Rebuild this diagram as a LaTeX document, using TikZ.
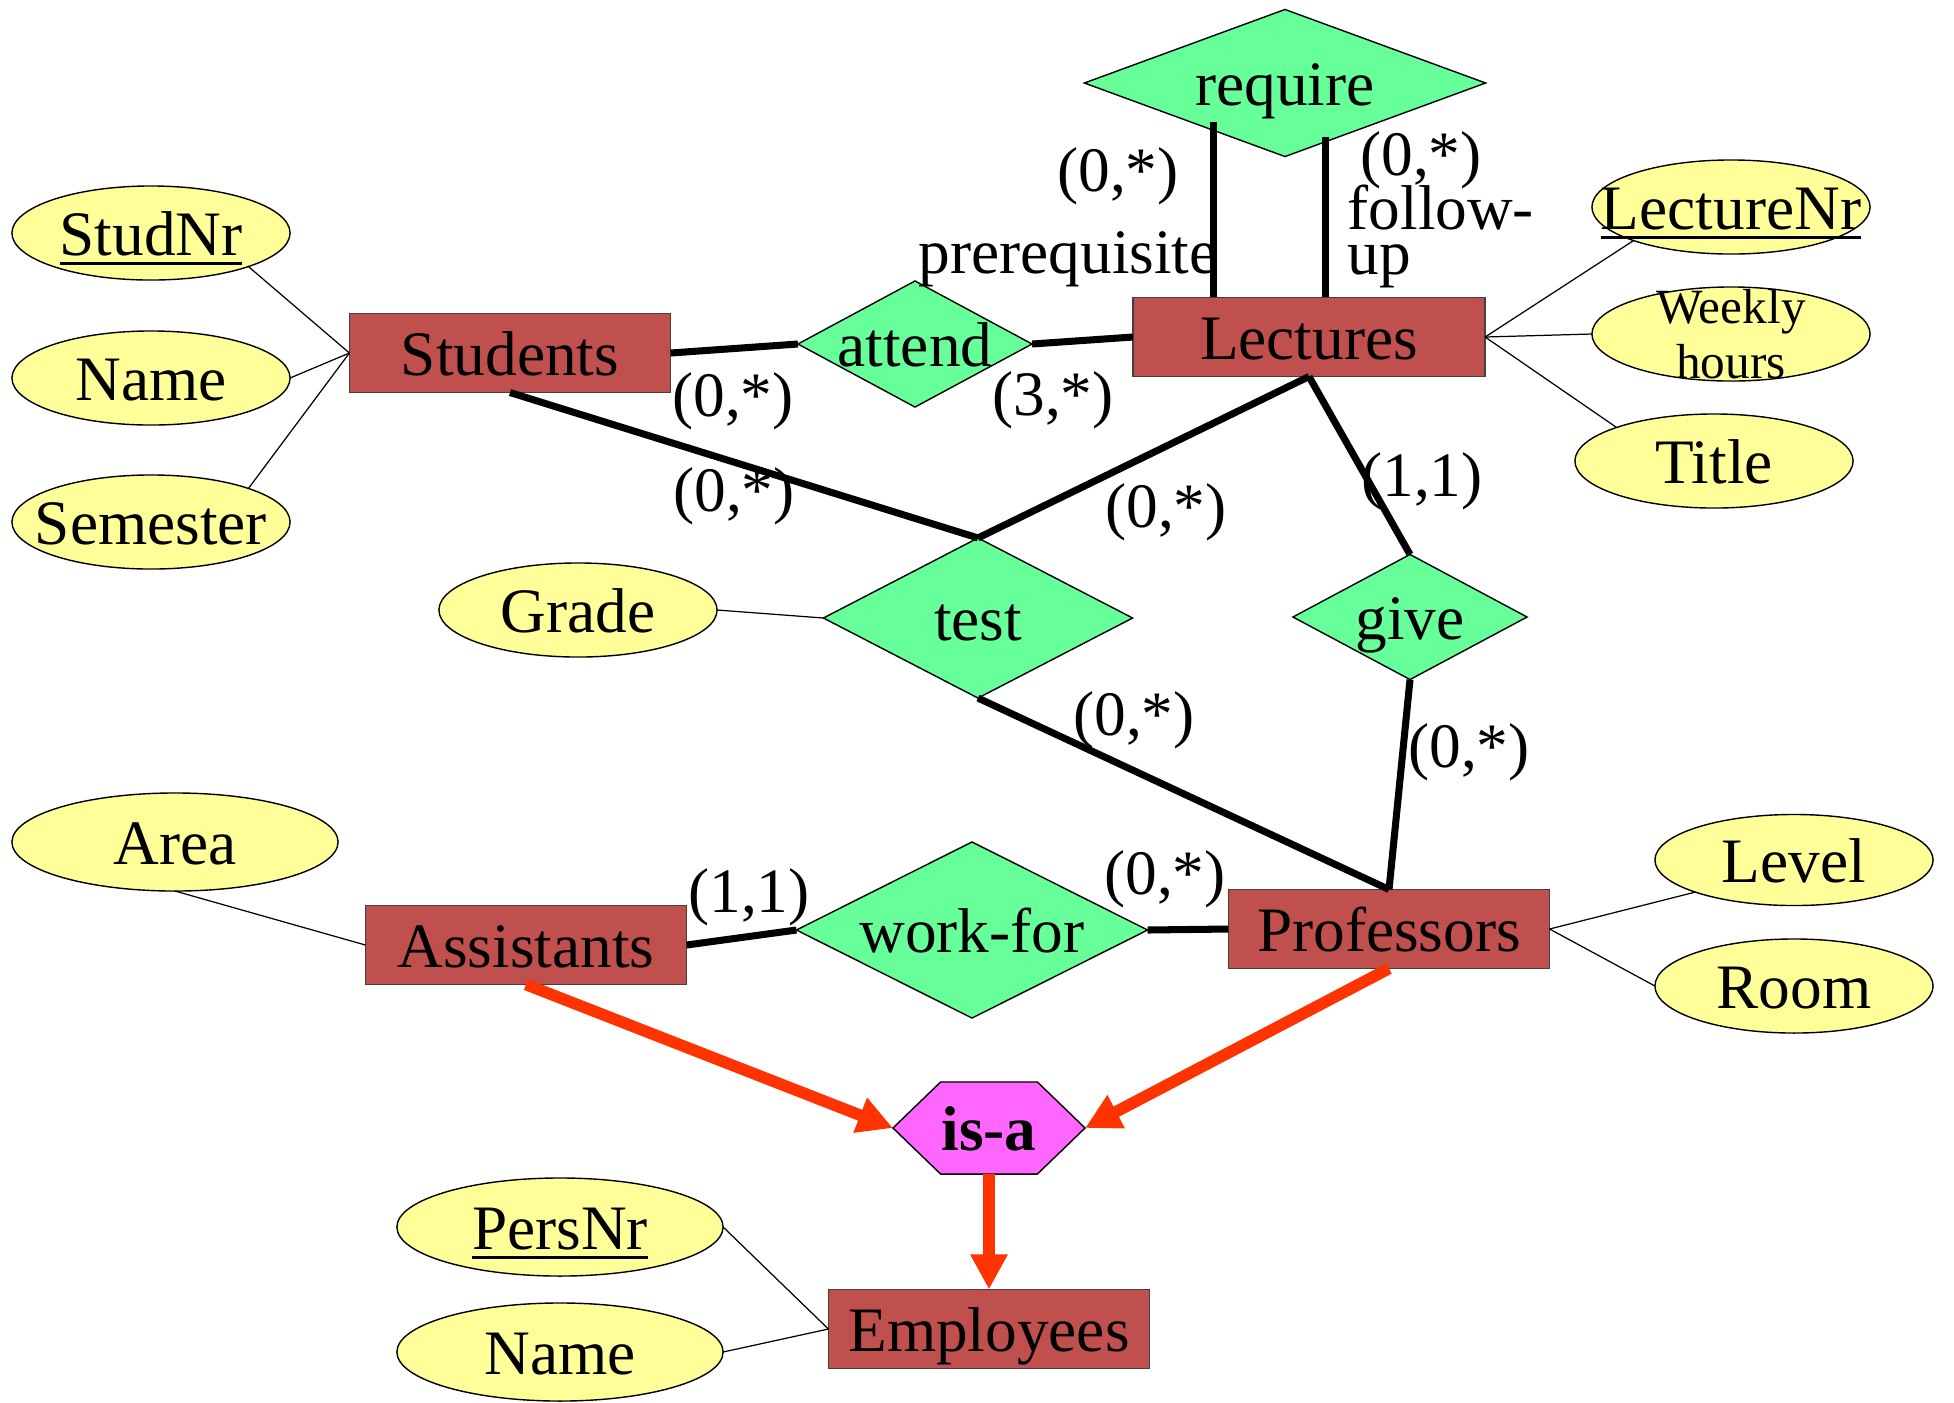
\documentclass[tikz,border=0pt]{standalone}
\usepackage{fontspec}
\setmainfont{Liberation Serif}
\usepackage{tikz}
\usetikzlibrary{arrows.meta,positioning,shapes.geometric,shapes.symbols,calc}
\definecolor{entfill}{HTML}{C0504D}
\definecolor{relfill}{HTML}{66FF99}
\definecolor{attrfill}{HTML}{FFFF99}
\definecolor{isafill}{HTML}{FF66FF}
\definecolor{isared}{HTML}{FF3300}
\newcommand{\erfont}{\fontsize{18pt}{21pt}\selectfont}
\newcommand{\keyattr}[1]{\setbox0\hbox{#1}\rlap{\raisebox{-2.8pt}[0pt][0pt]{\rule{\wd0}{1pt}}}\box0}
\tikzset{
  ertext/.style={text height=12.8pt, text depth=0pt},
  entity/.style={draw=black!75, line width=0.4pt, fill=entfill, font=\erfont, ertext,
                 minimum width=3.21cm, minimum height=0.79cm, inner sep=0pt, outer sep=0pt},
  rel/.style={diamond, aspect=2, draw, line width=0.4pt, fill=relfill, font=\erfont, ertext,
              inner sep=-10pt, outer sep=0pt},
  attrshape/.style={ellipse, draw, line width=0.4pt, fill=attrfill, font=\erfont,
               minimum width=2.78cm, minimum height=0.94cm, inner sep=-12pt, outer sep=0pt},
  attr/.style={attrshape, ertext},
  bigattr/.style={attr, minimum width=3.26cm, minimum height=0.98cm},
  isa/.style={signal, signal to=east and west, signal pointer angle=88, draw,
              line width=0.4pt, fill=isafill, font=\erfont\bfseries, ertext,
              minimum width=1.92cm, minimum height=0.92cm, inner sep=0pt, outer sep=0pt},
  link/.style={line width=2pt},
  attrline/.style={line width=0.35pt},
  isaflow/.style={draw=isared, line width=3.3pt, -{Triangle[length=10pt,width=10pt]}},
  card/.style={font=\erfont, inner sep=0pt},
}
\begin{document}
\begin{tikzpicture}[x=0.01cm, y=-0.01cm]
  \useasboundingbox (0,0) rectangle (1954,1402);
  \node[entity] (stud) at (510,353) {Students};
  \node[entity, minimum width=3.52cm] (lec) at (1309,337) {Lectures};
  \node[entity] (asst) at (526,945) {Assistants};
  \node[entity] (prof) at (1389,929) {Professors};
  \node[entity] (emp) at (989,1329) {Employees};

  \node[rel, minimum width=4.01cm, minimum height=1.47cm] (require) at (1285,83) {require};
  \node[rel, minimum width=2.34cm, minimum height=1.26cm] (attend) at (915,344) {attend};
  \node[rel, minimum width=3.09cm, minimum height=1.60cm] (test) at (978,618) {test};
  \node[rel, minimum width=2.34cm, minimum height=1.25cm] (give) at (1410,617) {give};
  \node[rel, minimum width=3.51cm, minimum height=1.76cm] (workfor) at (972,930) {work-for};
  \node[isa] (isa) at (989,1128) {is-a};

  \node[attr] (studnr) at (151,233) {\keyattr{StudNr}};
  \node[attr] (sname) at (151,378) {Name};
  \node[attr] (sem) at (151,522) {Semester};
  \node[attr] (lecnr) at (1731,207) {\keyattr{LectureNr}};
  \node[attrshape, align=center, font=\fontsize{14pt}{15.6pt}\selectfont] (hours) at (1731,334) {Weekly\\hours};
  \node[attr] (title) at (1714,461) {Title};
  \node[attr] (grade) at (578,610) {Grade};
  \node[bigattr] (area) at (175,842) {Area};
  \node[attr, minimum height=0.91cm] (level) at (1794,860) {Level};
  \node[attr] (room) at (1794,986) {Room};
  \node[bigattr] (persnr) at (560,1227) {\keyattr{PersNr}};
  \node[bigattr] (ename) at (560,1352) {Name};

  \node[card] (cStudAtt) at (733,401) {(0,*)};
  \node[card] (cStudTest) at (734,496) {(0,*)};
  \node[card] (cLecAtt) at (1053,400) {(3,*)};
  \node[card] (cLecTest) at (1166,512) {(0,*)};
  \node[card] (cLecGive) at (1422,481) {(1,1)};
  \node[card] (cProfTest) at (1134,720) {(0,*)};
  \node[card] (cProfGive) at (1469,752) {(0,*)};
  \node[card] (cAsstWork) at (749,897) {(1,1)};
  \node[card] (cProfWork) at (1165,879) {(0,*)};
  \node[card] (cPre) at (1118,176) {(0,*)};
  \node[card] (cFol) at (1421,160) {(0,*)};
  \node[card, anchor=base west] (prereq) at (918,273) {prerequisite};
  \node[card, anchor=west, align=left, font=\fontsize{18pt}{12.8pt}\selectfont] (follow) at (1347,236) {follow-\\up};

  \draw[link] (stud.east) -- (attend.west);
  \draw[link] (attend.east) -- (lec.west);
  \draw[link] (stud.south) -- (test.north);
  \draw[link] (lec.south) -- (test.north);
  \draw[link] (lec.south) -- (give.north);
  \draw[link] (test.south) -- (prof.north);
  \draw[link] (give.south) -- (prof.north);
  \draw[link] (asst.east) -- (workfor.west);
  \draw[link] (workfor.east) -- (prof.west);
  \coordinate (pre) at ($(require.south)!0.355!(require.west)$);
  \coordinate (fol) at ($(require.south)!0.2!(require.east)$);
  \draw[link, shorten <=-2.5pt] (pre) -- (pre |- lec.north);
  \draw[link, shorten <=-1.5pt] (fol) -- (fol |- lec.north);

  \draw[attrline] (stud.west) -- (studnr.-19);
  \draw[attrline] (stud.west) -- (sname.east);
  \draw[attrline] (stud.west) -- (sem.19);
  \draw[attrline] (lec.east) -- (lecnr.199);
  \draw[attrline] (lec.east) -- (hours.west);
  \draw[attrline] (lec.east) -- (title.161);
  \draw[attrline] (grade.east) -- (test.west);
  \draw[attrline] (area.south) -- (asst.west);
  \draw[attrline] (prof.east) -- (level.198);
  \draw[attrline] (prof.east) -- (room.west);
  \draw[attrline] (emp.west) -- (persnr.east);
  \draw[attrline] (emp.west) -- (ename.east);

  \draw[isaflow] (asst.south) -- (isa.west);
  \draw[isaflow] (prof.south) -- (isa.east);
  \draw[isaflow] (isa.south) -- (emp.north);
\end{tikzpicture}
\end{document}
